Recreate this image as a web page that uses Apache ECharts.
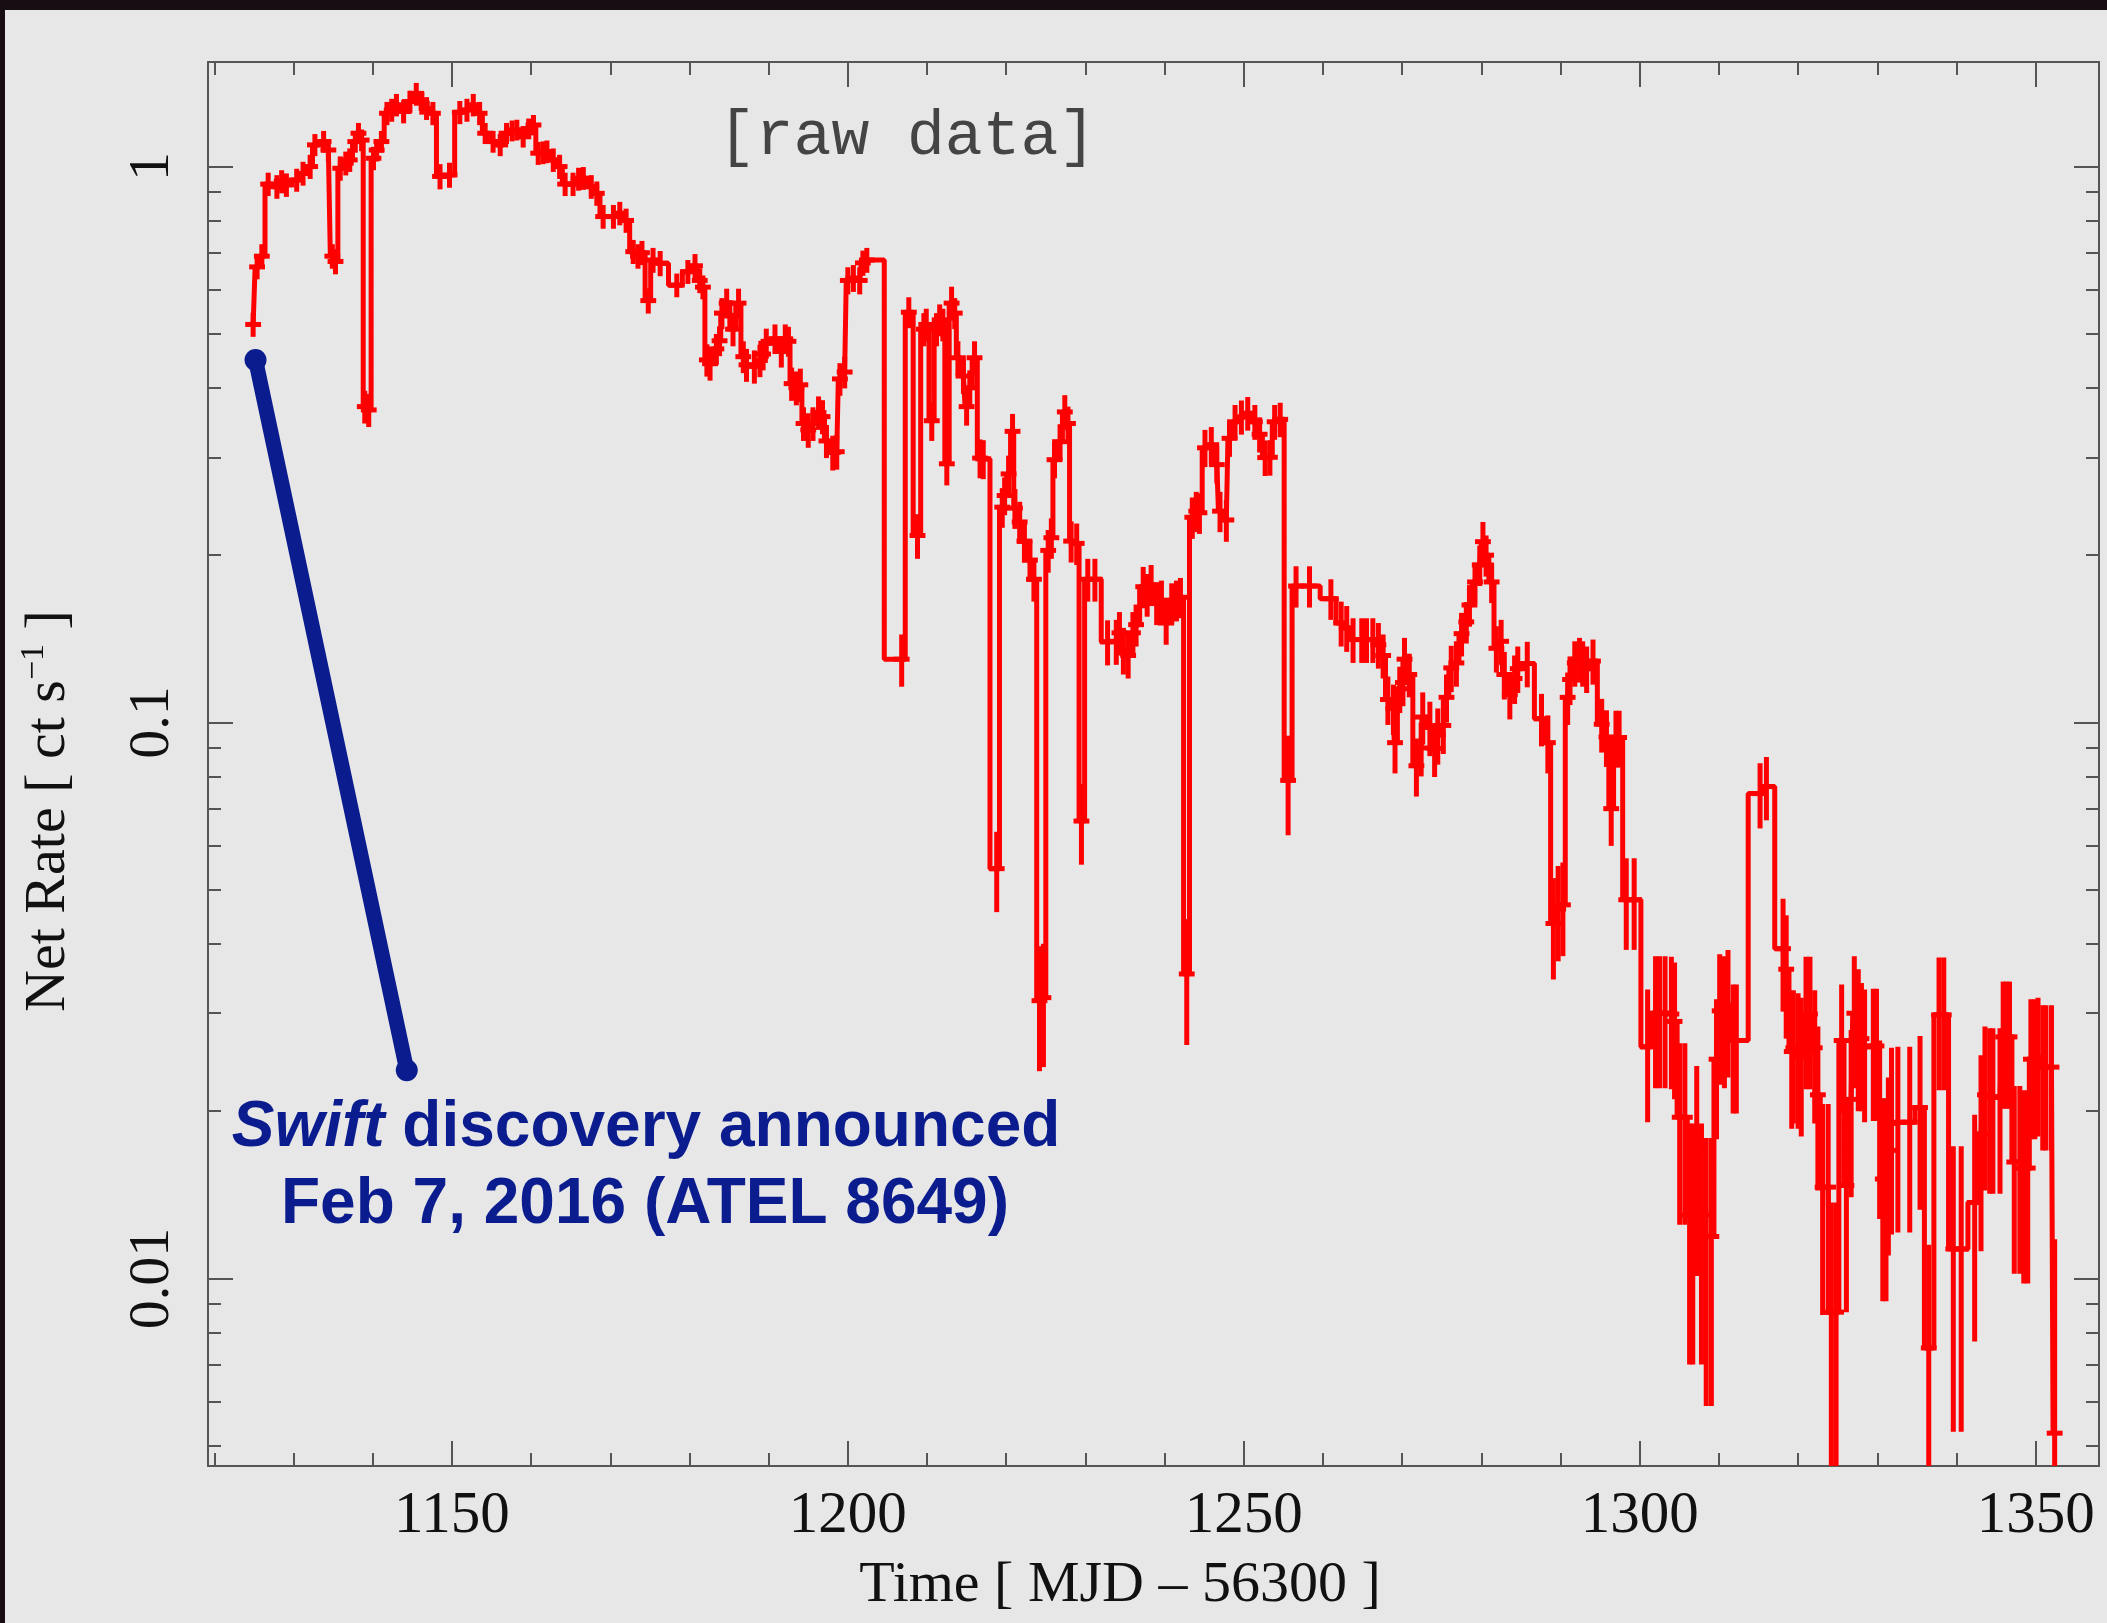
<!DOCTYPE html>
<html>
<head>
<meta charset="utf-8">
<title>Net rate light curve</title>
<script src="https://cdn.jsdelivr.net/npm/echarts@6/dist/echarts.min.js"></script>
<style>
  html, body { margin: 0; padding: 0; background: #e8e7e8; }
  #chart { width: 2107px; height: 1623px; }
</style>
</head>
<body>
<div id="chart"></div>
<script>
// light curve: [MJD - 56300, net rate (ct/s), error]
var lcRise = [
  [1124.9,0.520,0.026],[1125.4,0.660,0.033],[1126.0,0.690,0.035],[1126.8,0.930,0.045],[1127.9,0.920,0.045],
  [1128.5,0.940,0.045],[1129.1,0.927,0.045],[1130.4,0.946,0.045],[1131.2,0.972,0.048],[1132.1,1.000,0.05],
  [1132.7,1.094,0.05],[1133.8,1.109,0.05],[1134.4,1.071,0.05],[1134.9,0.690,0.035],[1135.3,0.675,0.035],
  [1135.9,0.993,0.05],[1136.6,1.014,0.05],[1137.1,1.028,0.05],[1137.8,1.109,0.05],[1138.2,1.148,0.05],
  [1138.6,1.116,0.05],[1139.0,0.370,0.025],[1139.5,0.365,0.025],[1140.1,1.035,0.05],[1140.5,1.071,0.05],
  [1141.1,1.109,0.05],[1141.8,1.247,0.06],[1142.4,1.264,0.06],[1143.0,1.291,0.06],[1143.9,1.256,0.06],
  [1144.7,1.309,0.06],[1145.5,1.354,0.06],[1146.2,1.300,0.06],[1146.8,1.273,0.06],[1147.6,1.247,0.06],
  [1148.5,0.960,0.05],[1149.7,0.966,0.05],[1151.0,1.252,0.06],[1151.9,1.264,0.06],[1152.7,1.291,0.06],
  [1153.5,1.247,0.06],[1154.2,1.148,0.05],[1155.2,1.109,0.05],[1156.1,1.094,0.05],[1156.9,1.148,0.05],
  [1157.6,1.160,0.05],[1158.2,1.164,0.05],[1159.0,1.132,0.05],[1159.7,1.170,0.05],[1160.3,1.188,0.05],
  [1160.9,1.057,0.05],[1161.5,1.060,0.05],[1162.0,1.064,0.05],[1162.8,1.028,0.05],[1163.6,1.000,0.05],
  [1164.3,0.930,0.045],[1165.3,0.930,0.045],[1166.0,0.950,0.045],[1166.6,0.953,0.045],[1167.6,0.920,0.045],
  [1168.3,0.895,0.045],[1169.1,0.813,0.04],[1170.4,0.813,0.04],[1171.2,0.824,0.04],[1172.0,0.800,0.04]
];
var lcDecline = [
  [1172.9,0.703,0.035],[1173.5,0.690,0.035],[1174.0,0.700,0.035],[1174.8,0.574,0.03],[1175.4,0.679,0.035],
  [1176.3,0.670,0.035],[1178.4,0.612,0.03],[1179.8,0.647,0.032],[1180.7,0.663,0.033],[1181.3,0.624,0.032],
  [1181.7,0.607,0.03],[1182.2,0.449,0.03],[1182.6,0.442,0.03],[1183.4,0.470,0.03],[1183.8,0.486,0.03],
  [1184.1,0.545,0.035],[1184.7,0.568,0.035],[1185.1,0.540,0.035],[1185.5,0.510,0.035],[1186.2,0.568,0.035],
  [1186.8,0.455,0.03],[1187.2,0.440,0.03],[1188.2,0.437,0.03],[1188.9,0.448,0.03],[1189.3,0.460,0.03],
  [1189.7,0.481,0.03],[1190.8,0.490,0.03],[1191.6,0.465,0.03],[1192.1,0.490,0.03],[1192.5,0.485,0.03],
  [1192.9,0.407,0.028],[1193.5,0.400,0.028],[1194.0,0.405,0.028],[1194.4,0.345,0.024],[1195.0,0.336,0.024],
  [1195.6,0.345,0.024],[1196.3,0.361,0.025],[1196.8,0.355,0.025],[1197.3,0.321,0.022],[1198.1,0.306,0.022],
  [1198.6,0.307,0.022],[1199.0,0.415,0.028],[1199.6,0.427,0.028],[1200.0,0.624,0.035],[1200.7,0.630,0.035],
  [1201.5,0.624,0.035],[1201.9,0.671,0.035],[1202.4,0.679,0.035],[1206.8,0.130,0.014],[1207.7,0.547,0.035],
  [1208.8,0.217,0.02],[1209.6,0.510,0.035],[1209.9,0.520,0.035],[1210.6,0.349,0.028],[1211.2,0.510,0.035],
  [1211.6,0.530,0.035],[1212.0,0.520,0.035],[1212.5,0.292,0.025],[1213.1,0.568,0.04],[1213.5,0.545,0.035],
  [1213.9,0.453,0.032],[1214.6,0.420,0.03],[1215.0,0.370,0.028],[1215.4,0.400,0.03],[1216.0,0.453,0.032],
  [1216.7,0.299,0.024],[1217.1,0.298,0.024]
];
var lcDips = [
  [1218.8,0.0546,0.009],[1219.5,0.244,0.02],[1219.8,0.256,0.02],[1220.3,0.280,0.022],[1220.8,0.334,0.025],
  [1221.1,0.243,0.02],[1221.7,0.2295,0.02],[1222.3,0.212,0.018],[1223.0,0.196,0.017],[1223.5,0.181,0.016],
  [1224.2,0.0316,0.008],[1224.7,0.0320,0.008],[1225.3,0.204,0.018],[1225.7,0.215,0.018],[1226.1,0.297,0.022],
  [1226.8,0.320,0.024],[1227.4,0.362,0.026],[1227.8,0.345,0.025],[1228.2,0.212,0.018],[1228.9,0.210,0.018],
  [1229.5,0.0665,0.011],[1230.3,0.181,0.016],[1231.2,0.181,0.016],[1232.8,0.1397,0.013],[1233.9,0.140,0.013],
  [1234.3,0.145,0.013],[1234.8,0.135,0.013],[1235.4,0.132,0.012],[1236.0,0.145,0.013],[1236.4,0.150,0.013],
  [1237.3,0.1755,0.015],[1237.8,0.170,0.015],[1238.3,0.177,0.015],[1239.0,0.1637,0.014],[1239.6,0.166,0.014],
  [1240.2,0.151,0.013],[1240.9,0.164,0.014],[1241.5,0.166,0.014],[1242.0,0.168,0.014],[1242.8,0.0353,0.009],
  [1243.5,0.234,0.02],[1244.0,0.240,0.02],[1244.4,0.2384,0.02],[1245.1,0.312,0.024],[1245.9,0.316,0.024],
  [1246.6,0.291,0.022],[1247.0,0.240,0.02],[1247.8,0.2314,0.02],[1248.2,0.3245,0.024],[1248.9,0.3475,0.025],
  [1249.7,0.3545,0.025],[1250.5,0.360,0.025],[1251.4,0.3475,0.025],[1252.0,0.330,0.024],[1252.7,0.2996,0.022],
  [1253.3,0.300,0.022],[1253.9,0.3475,0.025],[1254.6,0.351,0.025],[1255.6,0.0787,0.016]
];
var lcFade = [
  [1256.6,0.176,0.015],[1258.3,0.176,0.015],[1261.0,0.167,0.014],[1262.3,0.151,0.014],[1263.0,0.148,0.014],
  [1263.8,0.141,0.013],[1264.9,0.141,0.013],[1265.5,0.141,0.013],[1266.3,0.141,0.013],[1267.0,0.138,0.013],
  [1267.6,0.132,0.012],[1268.2,0.110,0.011],[1268.9,0.106,0.011],[1269.1,0.092,0.011],[1269.7,0.115,0.011],
  [1270.1,0.118,0.011],[1270.3,0.130,0.012],[1270.9,0.122,0.011],[1271.8,0.0836,0.01],[1272.4,0.090,0.01],
  [1272.6,0.1023,0.011],[1273.5,0.098,0.011],[1274.1,0.0898,0.01],[1274.5,0.095,0.011],[1275.2,0.0988,0.011],
  [1275.6,0.111,0.011],[1276.2,0.1254,0.012],[1276.85,0.128,0.012],[1277.5,0.1445,0.013],[1278.1,0.1517,0.013],
  [1278.5,0.1627,0.014],[1279.2,0.179,0.015],[1279.8,0.192,0.016],[1280.2,0.2115,0.018],[1280.6,0.200,0.017],
  [1281.3,0.179,0.015],[1281.9,0.136,0.013],[1282.5,0.140,0.013],[1282.9,0.122,0.012],[1283.6,0.1123,0.011],
  [1284.2,0.120,0.012],[1284.6,0.125,0.012],[1285.8,0.1277,0.012],[1287.6,0.1016,0.011],[1288.4,0.092,0.011],
  [1289.1,0.0435,0.009],[1289.7,0.0462,0.009],[1290.3,0.047,0.009],[1290.9,0.111,0.012],[1291.2,0.1195,0.012],
  [1291.8,0.128,0.012],[1292.4,0.130,0.012],[1292.8,0.128,0.012],[1293.3,0.125,0.012],[1294.1,0.129,0.012],
  [1295.2,0.0993,0.011],[1295.8,0.0942,0.011],[1296.4,0.070,0.01],[1297.0,0.094,0.011],[1297.4,0.094,0.011],
  [1298.3,0.048,0.009],[1299.3,0.048,0.009]
];
var lcTail = [
  [1301.0,0.0261,0.007],[1302.0,0.030,0.008],[1302.5,0.030,0.008],[1303.2,0.030,0.008],[1304.0,0.0299,0.008],
  [1304.4,0.029,0.008],[1305.05,0.0195,0.007],[1305.7,0.0195,0.007],[1306.3,0.013,0.006],[1306.7,0.013,0.006],
  [1307.2,0.0171,0.007],[1307.8,0.013,0.006],[1308.4,0.0119,0.006],[1309.05,0.0119,0.006],[1309.7,0.0248,0.007],
  [1310.1,0.0303,0.008],[1310.7,0.030,0.008],[1311.15,0.031,0.008],[1311.8,0.0268,0.007],[1312.2,0.0268,0.007],
  [1315.2,0.0745,0.01],[1316.0,0.0767,0.01],[1318.1,0.0392,0.009],[1318.5,0.036,0.009],[1319.2,0.0256,0.007],
  [1319.4,0.026,0.007],[1320.0,0.0256,0.007],[1320.4,0.025,0.007],[1321.0,0.0299,0.008],[1321.5,0.0299,0.008],
  [1322.1,0.026,0.007],[1322.5,0.0214,0.007],[1323.1,0.0146,0.006],[1323.8,0.0146,0.006],[1324.2,0.0087,0.005],
  [1324.8,0.0087,0.005],[1325.5,0.0268,0.007],[1326.1,0.0147,0.006],[1326.7,0.021,0.007],[1327.1,0.030,0.008],
  [1327.6,0.028,0.008],[1328.0,0.027,0.007],[1328.4,0.0261,0.007],[1329.5,0.0262,0.007],[1329.9,0.0262,0.007],
  [1330.3,0.0198,0.007],[1330.7,0.0151,0.006],[1331.1,0.0151,0.006],[1331.4,0.017,0.006],[1331.8,0.019,0.007],
  [1332.6,0.0191,0.007],[1334.1,0.0191,0.007],[1335.4,0.0203,0.007],[1336.5,0.0075,0.004],[1337.8,0.0298,0.008],
  [1338.4,0.0298,0.008],[1339.6,0.0113,0.006],[1340.6,0.0113,0.006],[1342.3,0.0137,0.006],[1343.1,0.0182,0.007],
  [1343.6,0.0214,0.007],[1344.2,0.0212,0.007],[1344.6,0.0212,0.007],[1345.5,0.0212,0.007],[1345.9,0.0272,0.007],
  [1346.3,0.0272,0.007],[1346.7,0.0272,0.007],[1347.3,0.0162,0.006],[1348.0,0.0162,0.006],[1348.5,0.0158,0.006],
  [1349.0,0.0158,0.006],[1349.4,0.0248,0.007],[1349.9,0.0248,0.007],[1350.3,0.0250,0.007],[1350.9,0.024,0.007],
  [1351.3,0.024,0.007],[1352.0,0.024,0.007],[1352.4,0.00527,0.0065]
];

// hand drawn pointer to the discovery date
var swiftMjd = [1125.2, 1144.3];
var swiftRate = [0.449, 0.0237];

// axes
var xMin = 1119.2, xMax = 1358;
var yMin = 0.0046, yMax = 1.542;
var xMajor = [1150, 1200, 1250, 1300, 1350];
var xMinor = [1120, 1130, 1140, 1160, 1170, 1180, 1190, 1210, 1220, 1230, 1240,
  1260, 1270, 1280, 1290, 1310, 1320, 1330, 1340];
var yMajor = [0.01, 0.1, 1];
var yMinor = [0.005, 0.006, 0.007, 0.008, 0.009, 0.02, 0.03, 0.04, 0.05, 0.06, 0.07, 0.08, 0.09,
  0.2, 0.3, 0.4, 0.5, 0.6, 0.7, 0.8, 0.9];

var lightCurve = lcRise.concat(lcDecline, lcDips, lcFade, lcTail);
var capDays = 1.0;
var red = '#ff0000';
var navy = '#0b1d8e';
var frame = '#555555';
var serif = 'Liberation Serif, Times New Roman, serif';

function xAxisFor(pos, ticks, len, main) {
  return {
    type: 'value', min: xMin, max: xMax, position: pos,
    axisLine: { show: main, onZero: false, lineStyle: { color: frame, width: 2 } },
    axisTick: { show: true, inside: true, length: len, customValues: ticks,
      lineStyle: { color: frame, width: 2 } },
    axisLabel: pos === 'bottom' && main ? {
      show: true, customValues: xMajor, margin: 21,
      fontFamily: serif, fontSize: 59, color: '#111',
      formatter: function (v) { return String(v); }
    } : { show: false },
    splitLine: { show: false }
  };
}

function yAxisFor(pos, ticks, len, main) {
  return {
    type: 'log', logBase: 10, min: yMin, max: yMax, position: pos,
    axisLine: { show: main, onZero: false, lineStyle: { color: frame, width: 2 } },
    axisTick: { show: true, inside: true, length: len, customValues: ticks,
      lineStyle: { color: frame, width: 2 } },
    axisLabel: pos === 'left' && main ? {
      show: true, customValues: yMajor, margin: 26, rotate: 90,
      fontFamily: serif, fontSize: 58, color: '#111',
      formatter: function (v) { return String(v); }
    } : { show: false },
    splitLine: { show: false }
  };
}

var chart = echarts.init(document.getElementById('chart'));
chart.setOption({
  animation: false,
  backgroundColor: '#e8e7e8',
  grid: { left: 208, right: 8, top: 62, bottom: 157, outerBoundsMode: 'none' },
  xAxis: [
    xAxisFor('bottom', xMajor, 25, true),
    xAxisFor('bottom', xMinor, 13, false),
    xAxisFor('top', xMajor, 25, true),
    xAxisFor('top', xMinor, 13, false)
  ],
  yAxis: [
    yAxisFor('left', yMajor, 25, true),
    yAxisFor('left', yMinor, 13, false),
    yAxisFor('right', yMajor, 25, true),
    yAxisFor('right', yMinor, 13, false)
  ],
  series: [
    {
      type: 'line', xAxisIndex: 0, yAxisIndex: 0,
      step: 'middle', showSymbol: false, symbol: 'none', clip: true,
      data: lightCurve.map(function (p) { return [p[0], p[1]]; }),
      lineStyle: { color: red, width: 5 },
      z: 2
    },
    {
      type: 'custom', xAxisIndex: 0, yAxisIndex: 0, clip: true,
      data: lightCurve,
      encode: { x: 0, y: 1 },
      renderItem: function (params, api) {
        var t = api.value(0), r = api.value(1), e = api.value(2);
        var lo = Math.max(r - e, yMin), hi = Math.min(r + e, yMax);
        var top = api.coord([t, hi]), bot = api.coord([t, lo]);
        var left = api.coord([t - capDays, r]), right = api.coord([t + capDays, r]);
        var st = { stroke: red, lineWidth: 5 };
        return {
          type: 'group',
          children: [
            { type: 'line', shape: { x1: top[0], y1: top[1], x2: bot[0], y2: bot[1] }, style: st },
            { type: 'line', shape: { x1: left[0], y1: left[1], x2: right[0], y2: right[1] }, style: st }
          ]
        };
      },
      z: 3
    },
    {
      type: 'line', xAxisIndex: 0, yAxisIndex: 0,
      data: swiftMjd.map(function (t, i) { return [t, swiftRate[i]]; }),
      symbol: 'circle', symbolSize: 22,
      itemStyle: { color: navy },
      lineStyle: { color: navy, width: 15, cap: 'round' },
      z: 5
    }
  ],
  graphic: [
    { type: 'rect', shape: { x: 0, y: 0, width: 2107, height: 10 }, style: { fill: '#180d12' }, z: 100 },
    { type: 'rect', shape: { x: 0, y: 0, width: 5, height: 1623 }, style: { fill: '#180d12' }, z: 100 },
    {
      type: 'text', x: 907, y: 137, z: 50,
      style: { text: '[raw data]', fill: '#444', font: '63px "Liberation Mono", monospace',
        textAlign: 'center', textVerticalAlign: 'middle' }
    },
    {
      type: 'text', x: 646, y: 1128, z: 50,
      style: {
        text: '{i|Swift} discovery announced',
        fill: navy, font: 'bold 64px "Liberation Sans", Arial, sans-serif',
        textAlign: 'center', textVerticalAlign: 'middle',
        rich: { i: { fontStyle: 'italic', fontWeight: 'bold', fontSize: 64,
          fontFamily: 'Liberation Sans', fill: navy } }
      }
    },
    {
      type: 'text', x: 645, y: 1205, z: 50,
      style: { text: 'Feb 7, 2016 (ATEL 8649)', fill: navy,
        font: 'bold 64px "Liberation Sans", Arial, sans-serif',
        textAlign: 'center', textVerticalAlign: 'middle' }
    },
    {
      type: 'text', x: 1120, y: 1586, z: 50,
      style: { text: 'Time [ MJD \u2013 56300 ]', fill: '#111',
        font: '58px "Liberation Serif", serif',
        textAlign: 'center', textVerticalAlign: 'middle' }
    },
    {
      type: 'text', x: 49, y: 811, rotation: Math.PI / 2, z: 50,
      style: {
        text: '{a|Net Rate [ ct s}{s|\u22121}{a| ]}',
        fill: '#111', font: '58px "Liberation Serif", serif',
        textAlign: 'center', textVerticalAlign: 'middle',
        rich: {
          a: { fontFamily: 'Liberation Serif', fontSize: 58, fill: '#111', lineHeight: 64 },
          s: { fontFamily: 'Liberation Serif', fontSize: 34, fill: '#111', verticalAlign: 'top', lineHeight: 40 }
        }
      }
    }
  ]
});
</script>
</body>
</html>
